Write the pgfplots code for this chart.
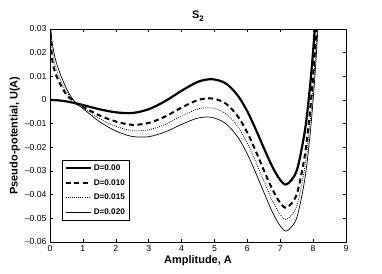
\documentclass[border=0pt]{standalone}
\usepackage{fontspec}
\setmainfont{Liberation Sans}
\usepackage{pgfplots}
\pgfplotsset{compat=1.18}
\begin{document}
\begin{tikzpicture}
\begin{axis}[
  scale only axis, width=296bp, height=213bp,
  xmin=0, xmax=9, ymin=-0.06, ymax=0.03,
  scaled y ticks=false, scaled x ticks=false,
  xtick={0,1,2,3,4,5,6,7,8,9},
  ytick={-0.06,-0.05,-0.04,-0.03,-0.02,-0.01,0,0.01,0.02,0.03},
  yticklabels={--0.06,--0.05,--0.04,--0.03,--0.02,--0.01,0,0.01,0.02,0.03},
  xticklabels={0,1,2,3,4,5,6,7,8,9},
  tick align=inside, major tick length=3bp,
  tick style={black, line width=0.4pt},
  axis line style={line width=0.8pt},
  ticklabel style={font=\fontsize{8.7}{10}\selectfont},
  title={\textbf{S}\raisebox{-0.5ex}{\fontsize{8}{9}\selectfont\bfseries 2}},
  title style={font=\fontsize{11}{13}\selectfont\bfseries, yshift=-2bp},
  xlabel={Amplitude, A},
  ylabel={Pseudo-potential, U(A)},
  label style={font=\fontsize{11}{13}\selectfont\bfseries},
  xlabel style={yshift=3bp},
  ylabel style={yshift=-2bp},
  legend cell align=left,
  legend style={at={(0.04,0.1)}, anchor=south west, draw=black, line width=0.5pt,
    font=\fontsize{8.2}{9}\selectfont\bfseries, inner sep=2.5pt, row sep=3.5bp},
  legend image code/.code={\draw[#1] (0bp,0bp) -- (25bp,0bp);},
]
\addplot[black, line width=2.2pt, smooth] coordinates {
(0,0) (0.25,-0.00015) (0.5,-0.0006) (0.75,-0.0013) (1,-0.0021) (1.5,-0.0039) (2,-0.0052) (2.5,-0.0055) (3,-0.0039) (3.5,-0.0005) (4,0.0039) (4.5,0.0077) (4.9,0.0088) (5.25,0.0077) (5.5,0.0052) (5.75,0.0011) (6,-0.0048) (6.25,-0.0122) (6.5,-0.0202) (6.75,-0.0279) (7,-0.0338) (7.2,-0.0356) (7.5,-0.0299) (7.75,-0.0130) (7.9,0.0048) (8,0.0206) (8.1,0.0402) (8.2,0.064)
};
\addlegendentry{D=0.00}
\addplot[black, line width=2pt, dash pattern=on 5pt off 3.5pt, smooth] coordinates {
(0.003,0.032) (0.02,0.025) (0.04,0.02) (0.1,0.0145) (0.2,0.01) (0.35,0.0057) (0.5,0.0022) (0.65,0.0002) (0.8,-0.0015) (1,-0.00285) (1.5,-0.0065) (2,-0.0091) (2.5,-0.0105) (3,-0.0097) (3.5,-0.0070) (4,-0.0032) (4.5,0.0000) (4.9,0.0007) (5.25,-0.0007) (5.5,-0.0034) (5.75,-0.0077) (6,-0.0138) (6.25,-0.0214) (6.5,-0.0296) (6.75,-0.0374) (7,-0.0435) (7.2,-0.0454) (7.5,-0.0399) (7.75,-0.0232) (7.9,-0.0055) (8,0.0103) (8.1,0.0298) (8.2,0.0536)
};
\addlegendentry{D=0.010}
\addplot[black, line width=0.8pt, dash pattern=on 0.8pt off 1.3pt, smooth] coordinates {
(0.01,0.032) (0.03,0.026) (0.08,0.02) (0.15,0.015) (0.27,0.01) (0.4,0.0058) (0.55,0.0025) (0.8,-0.0015) (1,-0.0032) (1.5,-0.0078) (2,-0.0111) (2.5,-0.0129) (3,-0.0126) (3.5,-0.0103) (4,-0.0068) (4.5,-0.0038) (4.9,-0.0033) (5.25,-0.0049) (5.5,-0.0077) (5.75,-0.0121) (6,-0.0183) (6.25,-0.0260) (6.5,-0.0342) (6.75,-0.0422) (7,-0.0484) (7.2,-0.0504) (7.5,-0.0449) (7.75,-0.0283) (7.9,-0.0106) (8,0.0051) (8.1,0.0246) (8.2,0.0483)
};
\addlegendentry{D=0.015}
\addplot[black, line width=0.7pt, smooth] coordinates {
(0.015,0.032) (0.05,0.026) (0.12,0.02) (0.2,0.0155) (0.34,0.01) (0.5,0.0048) (0.65,0.0012) (0.8,-0.0015) (1,-0.0036) (1.5,-0.0091) (2,-0.0131) (2.5,-0.0154) (3,-0.0155) (3.5,-0.0135) (4,-0.0103) (4.5,-0.0076) (4.9,-0.0073) (5.25,-0.0091) (5.5,-0.0120) (5.75,-0.0165) (6,-0.0228) (6.25,-0.0306) (6.5,-0.0389) (6.75,-0.0470) (7,-0.0532) (7.2,-0.0553) (7.5,-0.0499) (7.75,-0.0333) (7.9,-0.0157) (8,0.0000) (8.1,0.0195) (8.2,0.0432)
};
\addlegendentry{D=0.020}
\end{axis}
\path ([xshift=-50bp,yshift=-31bp]current axis.south west) rectangle ([xshift=36bp,yshift=29bp]current axis.north east);
\end{tikzpicture}
\end{document}
